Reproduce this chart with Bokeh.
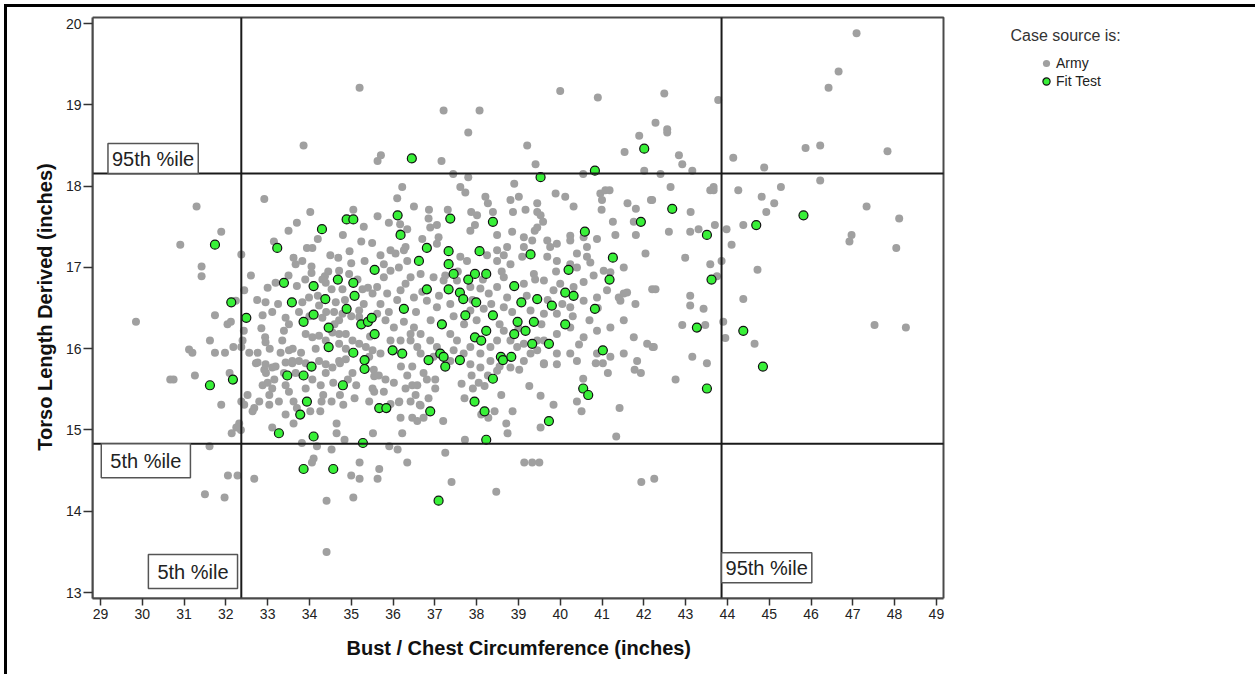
from bokeh.plotting import figure
from bokeh.models import Label, Legend, LegendItem, FixedTicker, ColumnDataSource, Title
from bokeh.embed import file_html
from bokeh.resources import INLINE

# ---------------- data ----------------
x_ticks = list(range(29, 50))
y_ticks = list(range(13, 21))

pct5_x, pct95_x = 32.37, 43.86      # bust / chest percentiles
pct5_y, pct95_y = 14.83, 18.155     # torso length percentiles

fit_xy = [
    (31.74, 17.28), (33.23, 17.24), (34.30, 17.47), (34.89, 17.59), (35.05, 17.59), (35.56, 16.97),
    (32.13, 16.57), (32.49, 16.38), (33.39, 16.81), (33.58, 16.57), (34.10, 16.77), (34.68, 16.85),
    (35.05, 16.81), (34.38, 16.61), (35.08, 16.65), (34.89, 16.49), (34.10, 16.42), (33.86, 16.33),
    (34.46, 16.26), (35.24, 16.30), (35.40, 16.33), (35.49, 16.38), (35.56, 16.18), (34.46, 16.02),
    (35.05, 15.95), (35.32, 15.86), (34.05, 15.78), (35.32, 15.75), (31.62, 15.55), (32.17, 15.62),
    (33.47, 15.67), (33.86, 15.67), (34.80, 15.55), (33.94, 15.35), (33.78, 15.19), (33.27, 14.96),
    (34.10, 14.92), (35.28, 14.84), (35.67, 15.27), (35.84, 15.27), (33.86, 14.52), (34.57, 14.52),
    (36.45, 18.34), (39.53, 18.11), (40.83, 18.19), (42.01, 18.46), (36.11, 17.64), (37.37, 17.60),
    (38.39, 17.56), (41.93, 17.56), (40.59, 17.44), (36.18, 17.40), (36.81, 17.24), (37.33, 17.20),
    (38.07, 17.20), (39.29, 17.16), (41.26, 17.12), (36.62, 17.08), (37.33, 17.04), (37.45, 16.92),
    (37.96, 16.92), (38.23, 16.92), (37.80, 16.85), (40.20, 16.97), (41.18, 16.85), (36.81, 16.73),
    (37.33, 16.73), (37.60, 16.69), (38.90, 16.77), (40.12, 16.69), (40.32, 16.65), (37.68, 16.61),
    (37.99, 16.57), (39.07, 16.57), (39.45, 16.61), (39.80, 16.53), (40.83, 16.49), (36.26, 16.49),
    (37.73, 16.41), (38.39, 16.41), (38.98, 16.33), (39.37, 16.33), (40.12, 16.30), (37.17, 16.30),
    (38.23, 16.22), (39.17, 16.22), (38.90, 16.18), (37.96, 16.14), (38.11, 16.10), (39.33, 16.06),
    (39.73, 16.06), (35.99, 15.98), (36.22, 15.94), (37.13, 15.94), (37.21, 15.90), (41.02, 15.98),
    (36.85, 15.86), (37.60, 15.86), (38.58, 15.90), (38.63, 15.86), (38.83, 15.90), (37.25, 15.78),
    (38.39, 15.63), (36.89, 15.23), (37.95, 15.35), (38.19, 15.23), (39.73, 15.11), (38.23, 14.88),
    (40.55, 15.51), (40.67, 15.43), (37.09, 14.13), (42.68, 17.72), (45.82, 17.64), (44.69, 17.52),
    (43.51, 17.40), (43.62, 16.85), (43.27, 16.26), (44.38, 16.22), (44.85, 15.78), (43.51, 15.51),
]

army_xy = [
    # upper and right-hand outliers
    (35.20, 19.21), (33.86, 18.50), (35.71, 18.38), (35.63, 18.31), (36.22, 17.99), (32.92, 17.84),
    (34.02, 17.68), (35.05, 17.71), (35.63, 17.63), (36.34, 17.47), (31.30, 17.75), (31.89, 17.44),
    (36.17, 17.53), (36.17, 17.42), (40.00, 19.17), (40.90, 19.09), (37.21, 18.93), (38.07, 18.93),
    (37.80, 18.66), (41.89, 18.62), (42.01, 18.19),
    (47.09, 19.88), (46.66, 19.41), (46.42, 19.21), (42.49, 19.14), (43.78, 19.06), (42.28, 18.78),
    (42.56, 18.70), (42.56, 18.66), (42.84, 18.38), (42.92, 18.27), (43.16, 18.19), (42.40, 18.15),
    (44.14, 18.35), (44.88, 18.23), (45.87, 18.47), (46.22, 18.50), (47.83, 18.43), (42.64, 17.99),
    (43.59, 17.95), (43.67, 17.99), (43.67, 17.95), (44.26, 17.95), (44.82, 17.87), (45.28, 17.99),
    (46.22, 18.07), (42.20, 17.83), (45.12, 17.79), (44.93, 17.68), (47.33, 17.75), (48.11, 17.60),
    (43.12, 17.68), (43.31, 17.47), (43.11, 17.44), (42.60, 17.44), (43.70, 17.52), (43.98, 17.47),
    (44.38, 17.52), (46.97, 17.40), (46.92, 17.32), (48.04, 17.24), (44.10, 17.28), (42.99, 17.12),
    (43.86, 17.08), (43.59, 17.04), (44.72, 16.97), (43.75, 16.89), (42.20, 16.73), (42.28, 16.73),
    (43.11, 16.65), (43.11, 16.53), (43.43, 16.49), (44.38, 16.61), (42.92, 16.29), (43.47, 16.29),
    (43.90, 16.33), (47.52, 16.29), (48.27, 16.26), (43.95, 16.13), (44.65, 16.06), (42.21, 16.02),
    (43.16, 15.90), (43.51, 15.82), (42.76, 15.62), (42.25, 14.40),
    # lower middle
    (41.94, 14.36), (41.34, 14.92), (41.42, 15.27), (41.14, 15.70), (41.78, 15.74), (41.93, 15.70),
    (40.85, 15.82), (41.02, 15.82), (40.55, 15.63), (40.40, 15.35), (40.51, 15.23), (39.84, 15.31),
    (39.53, 15.42), (39.53, 15.03), (39.26, 15.54), (39.61, 15.82), (39.02, 15.74), (38.86, 15.23),
    (38.71, 15.08), (38.74, 14.96), (38.59, 15.43), (38.43, 15.23), (38.55, 15.78), (38.28, 15.15),
    (38.11, 15.19), (39.14, 14.60), (39.33, 14.60), (39.50, 14.60), (38.47, 14.24), (37.72, 14.88),
    (37.25, 14.72), (37.40, 14.36), (37.20, 15.11), (37.71, 15.39), (37.91, 15.51), (37.64, 15.57),
    (37.88, 15.67), (38.05, 15.58), (38.19, 15.54), (38.27, 15.67), (35.91, 14.80), (36.11, 14.76),
    (36.34, 14.60), (35.67, 14.52), (35.63, 14.40), (36.22, 14.96), (35.52, 14.96), (36.18, 15.15),
    (36.46, 15.15), (36.58, 15.11), (36.85, 15.39), (36.73, 15.15), (36.15, 15.35), (36.42, 15.35),
    (36.64, 15.31), (35.55, 15.47), (35.78, 15.47),
    # lower left
    (30.75, 15.62), (30.67, 15.62), (31.26, 15.67), (32.09, 15.70), (31.89, 15.31), (32.37, 15.35),
    (32.44, 15.31), (32.32, 15.08), (32.25, 15.03), (32.14, 14.96), (32.36, 15.00), (31.61, 14.80),
    (32.05, 14.44), (32.28, 14.44), (32.68, 14.40), (31.50, 14.21), (31.97, 14.17), (34.41, 13.50),
    (34.41, 14.13), (35.05, 14.17), (35.00, 14.44), (35.20, 14.40), (35.20, 14.60), (34.10, 14.65),
    (34.06, 14.60), (33.82, 14.84), (34.53, 14.76), (34.18, 14.80), (34.84, 14.88), (34.65, 15.08),
    (34.65, 14.96), (33.62, 15.08), (33.11, 15.03), (33.43, 15.19), (32.88, 15.55), (32.68, 15.27),
    (32.64, 15.23), (32.52, 15.43), (32.80, 15.35), (33.04, 15.31), (33.04, 15.43), (33.27, 15.35),
    (33.11, 15.51), (33.00, 15.58), (33.16, 15.62), (32.96, 15.70), (32.72, 15.82), (32.92, 15.74),
    (33.19, 15.78), (33.62, 15.35), (33.70, 15.27), (34.02, 15.23), (34.26, 15.23), (34.29, 15.35),
    (34.33, 15.43), (34.53, 15.35), (34.57, 15.58), (34.73, 15.43), (34.81, 15.31), (34.92, 15.62),
    (35.12, 15.55), (35.08, 15.39), (35.43, 15.35), (35.51, 15.51), (35.55, 15.66), (33.43, 15.55),
    (33.51, 15.47), (33.67, 15.70), (33.39, 15.70), (33.91, 15.51), (34.07, 15.62), (34.27, 15.55),
    (34.39, 15.70), (34.73, 15.82), (35.03, 15.70), (33.59, 15.82), (33.91, 15.82),
    # upper left
    (30.91, 17.28), (33.15, 17.32), (33.94, 17.24), (34.07, 17.24), (35.24, 17.32), (34.96, 17.20),
    (32.37, 17.16), (33.62, 17.12), (33.83, 17.08), (33.67, 17.04), (34.69, 17.12), (35.32, 17.08),
    (31.42, 17.01), (31.42, 16.89), (34.05, 17.01), (34.05, 16.93), (34.71, 16.96), (34.95, 16.92),
    (34.37, 16.89), (34.31, 16.85), (33.19, 16.81), (33.70, 16.77), (34.53, 16.73), (34.79, 16.73),
    (34.39, 16.81), (35.27, 16.73), (35.51, 16.68), (32.95, 16.57), (33.11, 16.45), (32.88, 16.41),
    (33.43, 16.38), (33.51, 16.30), (33.39, 16.22), (33.83, 16.57), (33.99, 16.63), (34.23, 16.53),
    (34.63, 16.57), (34.59, 16.45), (34.79, 16.43), (34.31, 16.38), (34.71, 16.35), (35.19, 16.47),
    (35.19, 16.39), (31.74, 16.41), (32.04, 16.30), (32.12, 16.33), (29.85, 16.33), (32.43, 16.22),
    (32.40, 16.10), (31.62, 16.10), (32.94, 16.14), (32.95, 16.08), (31.12, 15.99), (31.20, 15.95),
    (31.74, 15.95), (31.98, 15.95), (32.18, 16.02), (32.37, 16.02), (32.56, 15.95), (32.76, 15.95),
    (32.76, 15.83), (32.95, 15.81), (33.11, 15.77), (33.31, 15.95), (33.51, 15.98), (33.59, 15.85),
    (33.43, 15.83), (33.75, 15.85), (33.91, 16.18), (34.07, 16.14), (34.23, 16.16), (34.39, 16.10),
    (34.55, 16.20), (34.71, 16.18), (34.87, 16.18), (35.03, 16.10), (34.71, 16.06), (34.87, 16.00),
    (34.23, 15.85), (34.39, 15.81), (34.55, 15.77), (34.71, 15.85), (34.87, 15.87), (35.19, 16.06),
    (35.35, 16.02), (35.51, 15.98), (35.43, 15.90), (32.44, 16.72), (32.24, 16.59),
    (33.50, 17.45), (33.70, 17.55), (34.20, 17.35), (34.50, 17.15), (34.80, 17.40), (35.00, 17.05),
    (35.30, 17.50), (35.50, 17.30), (35.70, 17.15), (35.90, 17.55), (36.10, 17.85), (36.50, 17.75),
    (36.70, 17.35), (36.30, 17.25),
    (32.60, 16.90), (32.75, 16.60), (32.85, 16.25), (33.00, 16.75), (33.05, 16.00), (33.25, 16.55),
    (33.35, 16.10), (33.50, 16.90), (33.60, 16.00), (33.75, 16.45), (33.80, 15.95), (33.90, 16.85),
    (34.00, 16.40), (34.15, 16.00), (34.20, 16.65), (34.40, 16.45), (34.45, 16.95), (34.60, 16.30),
    (34.85, 16.60), (35.00, 16.40), (35.15, 16.85), (35.30, 16.55), (35.45, 16.15), (35.40, 16.75),
    # upper middle
    (39.21, 18.50), (37.16, 18.31), (41.54, 18.42), (39.41, 18.27), (37.44, 18.15), (37.80, 18.11),
    (40.55, 18.15), (37.61, 17.99), (37.73, 17.92), (38.90, 18.03), (38.21, 17.87), (38.27, 17.79),
    (38.81, 17.83), (39.01, 17.87), (39.45, 17.79), (39.89, 17.91), (40.32, 17.75), (40.12, 17.87),
    (40.96, 17.91), (41.00, 17.83), (41.08, 17.95), (41.18, 17.95), (41.61, 17.79), (42.17, 17.83),
    (36.86, 17.71), (37.31, 17.71), (37.87, 17.68), (38.01, 17.64), (38.39, 17.68), (38.87, 17.68),
    (39.17, 17.71), (39.45, 17.68), (39.53, 17.64), (39.59, 17.56), (39.45, 17.49), (39.39, 17.45),
    (40.99, 17.71), (41.26, 17.56), (41.76, 17.56), (41.81, 17.72), (36.85, 17.60), (37.05, 17.52),
    (36.89, 17.49), (37.96, 17.52), (37.85, 17.45), (38.49, 17.40), (38.85, 17.44), (39.13, 17.37),
    (39.33, 17.33), (39.69, 17.33), (39.92, 17.29), (39.76, 17.25), (40.24, 17.39), (40.24, 17.33),
    (40.56, 17.37), (40.64, 17.25), (40.88, 17.35), (41.32, 17.40), (41.81, 17.40), (42.04, 17.17),
    (35.94, 17.21), (36.06, 17.17), (36.26, 17.21), (36.34, 17.08), (35.78, 17.04), (37.09, 17.37),
    (37.05, 17.29), (37.61, 17.13), (37.77, 17.08), (38.25, 17.15), (38.49, 17.21), (38.65, 17.15),
    (38.73, 17.25), (39.13, 17.25), (39.09, 17.13), (38.49, 17.08), (38.81, 17.04), (39.69, 17.13),
    (39.92, 17.08), (40.40, 17.17), (40.64, 17.13), (40.24, 17.04), (40.72, 17.06), (40.40, 17.00),
    (41.04, 16.96), (41.20, 16.94), (41.52, 17.00), (41.80, 16.55), (41.60, 16.69), (41.44, 16.59),
    (41.40, 16.63),
    # dense centre
    (40.80, 16.90), (40.56, 16.82), (40.32, 16.76), (40.00, 16.80), (39.84, 16.72), (39.61, 16.84),
    (39.37, 16.92), (39.13, 16.80), (38.65, 16.88), (38.49, 16.76), (38.29, 16.68), (38.09, 16.74),
    (37.85, 16.76), (37.53, 16.84), (37.21, 16.84), (36.97, 16.88), (36.66, 16.92), (36.42, 16.88),
    (36.14, 17.00), (35.94, 16.96), (35.78, 16.88), (35.62, 16.76), (35.86, 16.68), (36.18, 16.72),
    (36.50, 16.63), (36.81, 16.59), (37.05, 16.51), (37.37, 16.55), (37.85, 16.47), (38.17, 16.49),
    (38.65, 16.51), (38.73, 16.63), (39.29, 16.47), (39.61, 16.43), (39.92, 16.43), (40.24, 16.51),
    (40.56, 16.59), (40.88, 16.63), (41.12, 16.72), (41.52, 16.68),
    (35.62, 16.43), (35.82, 16.35), (36.02, 16.26), (36.26, 16.33), (36.50, 16.26), (36.66, 16.18),
    (36.42, 16.10), (36.58, 16.02), (36.89, 16.10), (37.05, 16.02), (37.37, 16.18), (37.53, 16.10),
    (37.45, 15.98), (37.85, 16.02), (38.09, 15.94), (38.33, 16.02), (38.49, 16.10), (38.65, 16.22),
    (38.81, 16.10), (39.13, 16.06), (39.45, 15.98), (39.61, 16.10), (39.92, 16.18), (40.24, 16.26),
    (40.56, 16.14), (40.88, 16.22), (41.20, 16.26), (41.52, 16.35), (41.76, 16.14), (42.08, 16.06),
    (39.92, 15.94), (40.24, 15.94), (40.88, 15.94), (41.20, 15.90), (41.52, 15.94), (41.84, 15.85),
    (42.24, 16.02), (39.13, 15.85), (39.61, 15.81), (39.92, 15.81), (40.40, 15.85),
    (35.54, 15.74), (35.66, 15.67), (35.82, 15.62), (36.02, 15.58), (36.19, 15.78), (36.34, 15.67),
    (36.46, 15.78), (36.46, 15.55), (36.58, 15.55), (36.30, 15.51), (36.54, 15.43), (36.73, 15.70),
    (36.81, 15.62), (37.01, 15.62), (37.01, 15.51), (35.94, 15.32), (36.14, 15.34), (36.66, 15.30),
    (35.70, 15.94), (35.94, 16.10), (36.18, 16.10), (36.42, 16.18), (36.66, 15.94), (36.97, 15.90),
    (37.37, 15.85), (37.69, 15.94), (37.85, 15.81), (38.09, 15.77), (38.33, 15.85), (38.49, 15.73),
    (38.81, 15.77), (38.97, 16.02), (39.29, 15.94), (39.45, 16.10),
    (35.70, 16.55), (35.90, 16.45), (36.10, 16.60), (36.30, 16.80), (36.55, 16.45), (36.70, 16.70),
    (36.90, 16.35), (37.10, 16.65), (37.25, 16.90), (37.45, 16.40), (37.55, 16.95), (37.70, 16.30),
    (37.90, 16.60), (38.00, 16.35), (38.15, 16.85), (38.35, 16.55), (38.55, 16.30), (38.60, 16.95),
    (38.85, 16.45), (39.00, 16.25), (39.20, 16.65), (39.40, 16.85), (39.55, 16.30), (39.70, 16.60),
    (39.90, 16.95), (40.05, 16.55), (40.30, 16.40), (40.45, 16.05), (40.70, 16.35), (40.90, 16.50),
]

army_x = [a for a, b in army_xy]
army_y = [b for a, b in army_xy]
fit_x = [a for a, b in fit_xy]
fit_y = [b for a, b in fit_xy]

legend_title = "Case source is:"
legend_labels = ["Army", "Fit Test"]
x_title = "Bust / Chest Circumference (inches)"
y_title = "Torso Length Derived (inches)"

# ---------------- layout constants ----------------
FONT = "Liberation Sans"
GRAY = "#a0a0a0"
GREEN = "#38f038"
BOX = "#4a4a4a"

x_lo, x_hi = 28.81, 49.17          # visible chart box
y_lo, y_hi = 12.927, 20.074
BOX_W, BOX_H = 851, 581            # chart box in pixels
EXTRA_W = 304                       # room on the right (legend) inside the frame
EXTRA_TOP = 2
x_view_hi = x_hi + EXTRA_W * (x_hi - x_lo) / BOX_W
y_view_hi = y_hi + EXTRA_TOP * (y_hi - y_lo) / BOX_H

p = figure(
    frame_width=BOX_W + EXTRA_W, frame_height=BOX_H + EXTRA_TOP,
    min_border_left=85, min_border_top=8, min_border_right=8, min_border_bottom=76,
    x_range=(x_lo, x_view_hi), y_range=(y_lo, y_view_hi),
    output_backend="svg", toolbar_location=None,
    background_fill_color="white", border_fill_color="white",
)
p.styles = {"border-left": "3px solid #000", "border-top": "3px solid #000",
            "margin-left": "4px", "margin-top": "4px"}

p.grid.visible = False
p.outline_line_color = None

for ax in (p.xaxis[0], p.yaxis[0]):
    ax.axis_line_color = BOX
    ax.axis_line_width = 2
    ax.major_tick_line_color = "#333333"
    ax.major_tick_line_width = 1.5
    ax.major_tick_in = 0
    ax.minor_tick_line_color = None
    ax.major_label_text_font = FONT
    ax.major_label_text_font_size = "14px"
    ax.major_label_text_color = "#222222"
    ax.axis_label_text_font = FONT
    ax.axis_label_text_font_style = "bold"
    ax.axis_label_text_font_size = "20px"
    ax.axis_label_text_color = "#111111"

p.xaxis.ticker = FixedTicker(ticks=x_ticks)
p.yaxis.ticker = FixedTicker(ticks=y_ticks)
p.xaxis.bounds = (x_lo, x_hi)
p.yaxis.bounds = (y_lo, y_hi)
p.xaxis.major_tick_out = 7
p.yaxis.major_tick_out = 9
p.xaxis.major_label_standoff = 3
p.yaxis.major_label_standoff = 2
p.yaxis.axis_label = y_title
p.yaxis.axis_label_standoff = 7

# x-axis title, centred under the chart box
p.add_layout(Title(text=x_title, align="left", offset=254, standoff=27,
                   text_font=FONT, text_font_size="20px", text_font_style="bold",
                   text_color="#111111"), "below")

# chart box
p.quad(left=[x_lo], right=[x_hi], bottom=[y_lo], top=[y_hi],
       fill_color=None, line_color=BOX, line_width=2)

army_src = ColumnDataSource(dict(x=army_x, y=army_y))
fit_src = ColumnDataSource(dict(x=fit_x, y=fit_y))

r_army = p.scatter("x", "y", source=army_src, size=8, marker="circle",
                   fill_color=GRAY, line_color=None)
r_fit = p.scatter("x", "y", source=fit_src, size=9, marker="circle",
                  fill_color=GREEN, line_color="#111111", line_width=1.2)

# percentile reference lines
p.segment(x0=[pct5_x, pct95_x], x1=[pct5_x, pct95_x], y0=[y_lo, y_lo], y1=[y_hi, y_hi],
          line_color="#1a1a1a", line_width=2)
p.segment(x0=[x_lo, x_lo], x1=[x_hi, x_hi], y0=[pct5_y, pct95_y], y1=[pct5_y, pct95_y],
          line_color="#1a1a1a", line_width=2)

def box_label(text, x, y, align, baseline, pad):
    return Label(x=x, y=y, text=text, text_align=align, text_baseline=baseline,
                 text_font=FONT, text_font_size="20px", text_color="#222222",
                 border_line_color="#555555", border_line_width=1.5,
                 background_fill_color="white", padding=pad)

p.add_layout(box_label("95th %ile", 29.18, pct95_y, "left", "bottom", (4, 4)))
p.add_layout(box_label("5th %ile", 29.02, pct5_y, "left", "top", (9, 6)))
p.add_layout(box_label("5th %ile", 32.28, 13.05, "right", "bottom", (9, 6)))
p.add_layout(box_label("95th %ile", pct95_x, 13.12, "left", "bottom", (4, 4)))

# legend (to the right of the chart box)
p.add_layout(Label(x=918, y=BOX_H - 18, x_units="screen", y_units="screen", text=legend_title,
                   text_font=FONT, text_font_size="16px", text_color="#333333",
                   text_baseline="middle", text_align="left"))
legend = Legend(items=[LegendItem(label=legend_labels[0], renderers=[r_army]),
                       LegendItem(label=legend_labels[1], renderers=[r_fit])],
                location=(945, BOX_H - 73), orientation="vertical",
                glyph_width=18, glyph_height=18, label_height=18, spacing=0,
                label_standoff=1, padding=0, margin=0,
                border_line_color=None, background_fill_alpha=0,
                label_text_font=FONT, label_text_font_size="14px", label_text_color="#222222")
p.add_layout(legend)

open("out.html", "w").write(file_html(p, INLINE))
